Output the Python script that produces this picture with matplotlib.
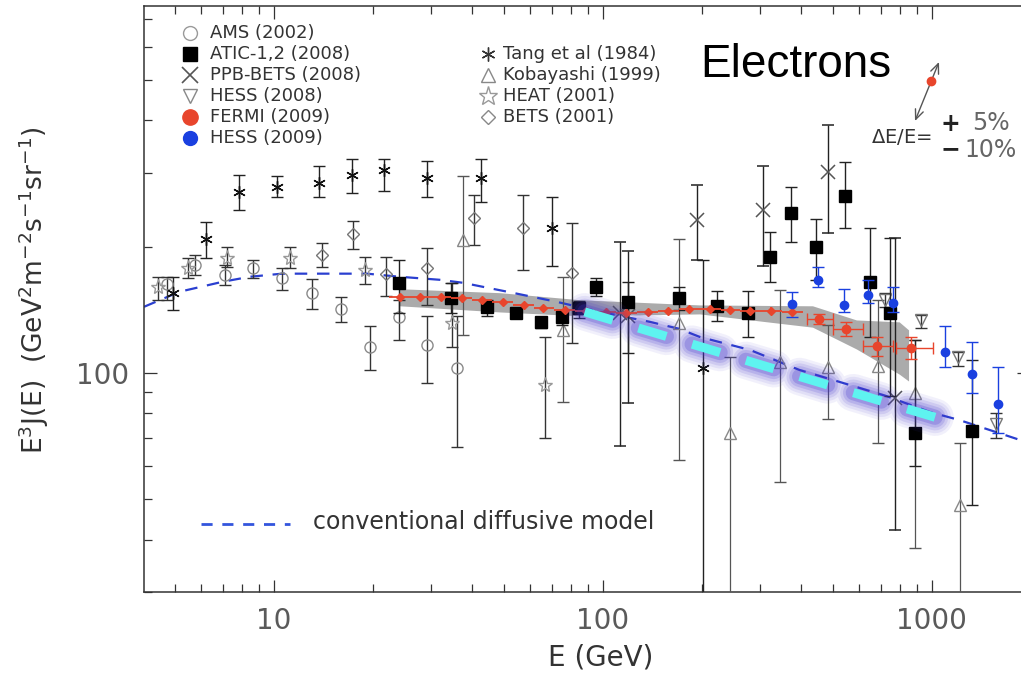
import numpy as np
import matplotlib.pyplot as plt
from matplotlib.ticker import FixedLocator, FuncFormatter, NullFormatter, LogLocator

plt.rcParams['lines.scale_dashes'] = False
plt.rcParams['font.family'] = ['DejaVu Sans']

# ---- data (E in GeV, E^3 J(E) in GeV^2 m^-2 s^-1 sr^-1) ----
ams_e = [4.73, 5.75, 7.10, 8.63, 10.6, 13.1, 16.0, 19.6, 24.0, 29.2, 36.0]
ams_f = [163, 181, 171, 178, 168, 155, 142, 115, 136, 116.6, 102.7]
ams_lo = [149, 171, 162, 168, 158, 142, 132, 101.5, 120, 94.5, 66.5]
ams_hi = [169, 191, 181, 186, 178, 167, 152, 129, 149, 137, 137]

atic_e = [24.0, 34.5, 44.4, 54.3, 64.9, 75.1, 84.5, 95.1, 119, 171, 222, 276,
          322, 373, 444, 544, 649, 745, 887, 1324]
atic_f = [164, 151, 143.6, 139, 132.3, 136, 142.9, 160, 147.6, 151, 144.6, 139,
          189, 240, 200, 264.6, 165, 139, 71.8, 72.5]
atic_lo = [139, 139, 136.6, 135, 128, 130, 135, 152.6, 111.6, 141, 133, 122,
           165, 205, 166.7, 221, 122, 88, 59.8, 48.3]
atic_hi = [186, 164, 149, 143, 136, 141, 148, 168, 165, 160, 157, 157,
           217, 278, 233, 319, 222, 210, 120, 107]

ppb_e = [113, 119, 194, 306, 483, 772]
ppb_f = [139, 136.5, 232, 245, 302, 87.1]
ppb_lo = [67, 84.6, 186, 180, 216, 42.1]
ppb_hi = [205, 195, 281, 311, 391, 210]

hess08_e = [719, 926, 1199, 1567]
hess08_f = [149.4, 133.7, 109.1, 75.5]
hess08_lo = [143.6, 128, 103.8, 69.8]
hess08_hi = [155, 137.4, 112.1, 80.2]

fermi_e = [24.1, 27.9, 32.2, 37.2, 42.9, 49.6, 57.5, 66.0, 76.6, 88.6, 102, 118,
           137, 158, 183, 212, 243, 281, 325, 376, 454, 548, 681, 863]
fermi_f = [151.8, 151.6, 151.5, 151, 149.4, 147.8, 145.2, 142.9, 141.3, 140.2,
           139.8, 139, 139.8, 140.6, 142.1, 142.1, 141.3, 140.6, 140.6, 139.8,
           134.4, 127.3, 115.9, 114.6]
fermi_elo = [22.4, 25.9, 30.0, 34.6, 40.0, 46.2, 53.4, 61.6, 71.2, 82.3, 95.2, 110,
             127, 147, 170, 197, 228, 262, 303, 350, 417, 500, 617, 776]
fermi_ehi = [25.9, 30.0, 34.6, 40.0, 46.2, 53.4, 61.6, 71.2, 82.3, 95.2, 110, 127,
             147, 170, 197, 228, 262, 303, 350, 405, 500, 617, 761, 1008]
fermi_ferr = [2, 2, 2, 2, 2, 2, 2, 2, 2, 2, 2, 2, 2, 2, 2.5, 2.5, 3, 3, 3, 3.5,
              4, 5, 6, 7]

band_e = [24.1, 48.6, 85.1, 197, 434, 590, 796, 850]
band_lo = [144.5, 139.7, 136.8, 138.2, 128.5, 114, 99.3, 95.6]
band_hi = [158.7, 155.3, 149.4, 145.2, 144.5, 133.7, 132.3, 126.6]

hess09_e = [376, 450, 540, 639, 761, 1096, 1325, 1588]
hess09_f = [146.1, 166.7, 145.2, 153.5, 146.9, 112.1, 99.3, 84.2]
hess09_lo = [136, 160, 139.8, 146.9, 139.8, 103.3, 89.5, 71.8]
hess09_hi = [156, 179, 158.7, 166.7, 160.5, 129.4, 118.5, 103.3]

tang_e = [4.93, 6.21, 7.83, 10.2, 13.7, 17.3, 21.6, 29.2, 42.6, 70.0, 201]
tang_f = [155, 209, 270, 278, 284, 297, 304, 292, 291, 221, 102.7]
tang_lo = [141, 188, 244, 262, 263, 269, 272, 263, 255, 180, 29]
tang_hi = [169, 229, 297, 295, 311, 323, 323, 320, 323, 262, 186]

koba_e = [37.5, 75.5, 171, 243, 345, 483, 686, 887, 1216]
koba_f = [207, 126.6, 131.6, 71.8, 106, 103.3, 103.8, 89.5, 48.3]
koba_lo = [123, 85, 61.9, 29, 54.8, 77.5, 68, 38.3, 29]
koba_hi = [294, 169, 208, 109, 158, 130, 149, 120, 68]

heat_e = [4.44, 5.48, 7.20, 11.2, 18.9, 34.8, 66.6]
heat_f = [160, 178, 188, 188, 176, 131.6, 93.5]
heat_lo = [149, 168, 179, 178, 163, 115, 69.8]
heat_hi = [169, 188, 200, 200, 189, 164, 122]

bets_e = [14.0, 17.4, 22.0, 29.2, 40.5, 57.1, 80.5]
bets_f = [191, 214, 172, 178, 234.5, 222, 173]
bets_lo = [179, 197, 152.6, 145, 202, 176, 118]
bets_hi = [204, 230, 189, 198, 266, 266, 228]

model_e = [4.03, 5.17, 6.99, 8.46, 10.6, 14.5, 19.2, 24.1, 31.9, 37.5, 53.2, 72.4,
           97.9, 139, 171, 197, 280, 397, 525, 728, 988, 1216, 1860, 2000]
model_f = [143.7, 156.1, 164.9, 169.5, 172.4, 172.4, 172.4, 169.5, 166.7, 164.0,
           155.2, 147.7, 139.8, 132.3, 127.3, 121.8, 113.4, 101.5, 95.1, 88.0,
           80.6, 77.1, 69.1, 67.9]

highlight_e = [88.1, 1042]
highlight_f = [139.8, 78.0]

left_labels = ["AMS (2002)", "ATIC-1,2 (2008)", "PPB-BETS (2008)", "HESS (2008)",
               "FERMI (2009)", "HESS (2009)"]
right_labels = ["Tang et al (1984)", "Kobayashi (1999)", "HEAT (2001)", "BETS (2001)"]

RED = '#e8452c'
BLUE = '#1a40e0'
ASTER = (6, 2, 0)

# ---- figure ----
W, H = 1021, 682
fig = plt.figure(figsize=(W / 100, H / 100), dpi=100)
ax = fig.add_axes([144 / W, (H - 592) / H, (1029 - 144) / W, (592 - 6) / H])
ax.set_xscale('log')
ax.set_yscale('log')
ax.set_xlim(4.03, 1975)
ax.set_ylim(30, 750)


def axfrac(px, py):
    return (px - 144) / 885, (592 - py) / 586


def draw(e, f, lo, hi, marker, ms, mfc, mec, ecolor='#222', elw=1.0, cap=4.0,
         z=3, mew=1.0, xerr=None):
    f = np.asarray(f, dtype=float)
    yerr = [f - np.asarray(lo), np.asarray(hi) - f]
    ax.errorbar(e, f, yerr=yerr, xerr=xerr, fmt='', marker=marker, ls='none',
                ms=ms, mfc=mfc, mec=mec, mew=mew, ecolor=ecolor,
                elinewidth=elw, capsize=cap, capthick=elw, zorder=z)


ax.fill_between(band_e, band_lo, band_hi, color='#ababab', lw=0, zorder=1)
ax.plot(model_e, model_f, color='#2a3fd0', lw=1.6, dashes=(9, 7), zorder=2)

draw(ams_e, ams_f, ams_lo, ams_hi, 'o', 8, 'none', '#8a8a8a', ecolor='#333')
draw(heat_e, heat_f, heat_lo, heat_hi, '*', 11, 'none', '#999', ecolor='#333')
draw(bets_e, bets_f, bets_lo, bets_hi, 'D', 6, 'none', '#777', ecolor='#333')
draw(koba_e, koba_f, koba_lo, koba_hi, '^', 8, 'none', '#888', ecolor='#555',
     elw=0.9)
draw(tang_e, tang_f, tang_lo, tang_hi, ASTER, 9, '#111', '#111')
draw(ppb_e, ppb_f, ppb_lo, ppb_hi, 'x', 10, '#555', '#555', mew=1.1)
draw(hess08_e, hess08_f, hess08_lo, hess08_hi, 'v', 8, 'none', '#777',
     ecolor='#333')
draw(atic_e, atic_f, atic_lo, atic_hi, 's', 8, 'black', 'black', z=4)

fe = np.asarray(fermi_e)
fxerr = [fe - np.asarray(fermi_elo), np.asarray(fermi_ehi) - fe]
ax.errorbar(fermi_e[:20], fermi_f[:20], yerr=fermi_ferr[:20],
            xerr=[fxerr[0][:20], fxerr[1][:20]], fmt='D', ms=4.5, color=RED,
            elinewidth=1.3, capsize=0, zorder=5)
ax.errorbar(fermi_e[20:], fermi_f[20:], yerr=fermi_ferr[20:],
            xerr=[fxerr[0][20:], fxerr[1][20:]], fmt='o', ms=6, color=RED,
            elinewidth=1.0, capsize=4, zorder=5)

draw(hess09_e, hess09_f, hess09_lo, hess09_hi, 'o', 6, BLUE, BLUE,
     ecolor=BLUE, z=5)

# highlighted trend (cyan with violet glow)
for lw, a in [(27, 0.07), (23, 0.09), (19, 0.12), (15, 0.16), (11, 0.24)]:
    ax.plot(highlight_e, highlight_f, color='#4536cc', lw=lw, alpha=a,
            dashes=(21, 19.4), dash_capstyle='round', zorder=8)
ax.plot(highlight_e, highlight_f, color='#5ef3f0', lw=6.5, dashes=(21, 19.4),
        dash_capstyle='butt', zorder=9)

# ---- axes styling ----
ax.xaxis.set_major_locator(FixedLocator([10, 100, 1000]))
ax.xaxis.set_minor_locator(LogLocator(base=10, subs=np.arange(2, 10)))
ax.yaxis.set_major_locator(FixedLocator([100]))
ax.yaxis.set_minor_locator(LogLocator(base=10, subs=np.arange(2, 10)))
fmt = FuncFormatter(lambda v, p: f'{v:g}')
ax.xaxis.set_major_formatter(fmt)
ax.yaxis.set_major_formatter(fmt)
ax.xaxis.set_minor_formatter(NullFormatter())
ax.yaxis.set_minor_formatter(NullFormatter())
ax.tick_params(which='both', direction='in', top=True, right=True,
               color='#333', width=0.9)
ax.tick_params(which='major', length=9, labelsize=20, labelcolor='#5a5a5a', pad=11)
ax.tick_params(which='minor', length=5.5)
for s in ax.spines.values():
    s.set_color('#333')
    s.set_linewidth(1.1)

ax.set_xlabel('E (GeV)', fontsize=20, color='#333')
ax.xaxis.set_label_coords(0.516, -0.088)
ax.set_ylabel(r'E$^{3}$J(E)  (GeV$^{2}$m$^{-2}$s$^{-1}$sr$^{-1}$)',
              fontsize=19, color='#333')
ax.yaxis.set_label_coords(-0.105, 0.515)

# ---- manual legend ----
left_styles = [
    dict(marker='o', mfc='none', mec='#9a9a9a', ms=10),
    dict(marker='s', mfc='black', mec='black', ms=10),
    dict(marker='x', mfc='#555', mec='#555', ms=11, mew=1.2),
    dict(marker='v', mfc='none', mec='#888', ms=10),
    dict(marker='o', mfc=RED, mec=RED, ms=11),
    dict(marker='o', mfc=BLUE, mec=BLUE, ms=10),
]
right_styles = [
    dict(marker=ASTER, mfc='#333', mec='#333', ms=10),
    dict(marker='^', mfc='none', mec='#888', ms=10),
    dict(marker='*', mfc='none', mec='#999', ms=14),
    dict(marker='D', mfc='none', mec='#888', ms=7),
]
rows = [33, 54, 75, 96, 117, 138]
for i, (lab, st) in enumerate(zip(left_labels, left_styles)):
    ax.plot(*axfrac(190, rows[i]), transform=ax.transAxes, ls='none',
            clip_on=False, zorder=6, **st)
    ax.text(*axfrac(210, rows[i]), lab, transform=ax.transAxes, fontsize=13,
            color='#333', va='center', ha='left')
for i, (lab, st) in enumerate(zip(right_labels, right_styles)):
    ax.plot(*axfrac(488, rows[i + 1]), transform=ax.transAxes, ls='none',
            clip_on=False, zorder=6, **st)
    ax.text(*axfrac(503, rows[i + 1]), lab, transform=ax.transAxes, fontsize=13,
            color='#333', va='center', ha='left')

lx0, ly = axfrac(201, 524)
lx1, _ = axfrac(290, 524)
ax.plot([lx0, lx1], [ly, ly], transform=ax.transAxes, color='#3355dd', lw=2,
        dashes=(8, 7))
ax.text(*axfrac(313, 522), 'conventional diffusive model', transform=ax.transAxes,
        fontsize=17, color='#333', va='center', ha='left')

# ---- annotations ----
fig.text(700 / W, 1 - 65 / H, 'Electrons', fontsize=33, family='Liberation Sans',
         va='center', ha='left', color='black')
ax.annotate('', xy=(939, H - 62), xytext=(915, H - 121), xycoords='figure pixels',
            textcoords='figure pixels',
            arrowprops=dict(arrowstyle='<->,head_length=0.7,head_width=0.3',
                            color='#555', lw=1.0, shrinkA=0, shrinkB=0))
ax.plot([931 / W], [1 - 81 / H], 'o', color=RED, ms=6, transform=fig.transFigure,
        clip_on=False, zorder=10)
fig.text(871 / W, 1 - 137 / H, r'$\Delta$E/E=', fontsize=14, color='#333',
         va='center', ha='left')
fig.text(950 / W, 1 - 124 / H, '+', fontsize=17, fontweight='bold', color='#222',
         va='center', ha='center')
fig.text(950 / W, 1 - 149 / H, '\u2212', fontsize=17, fontweight='bold',
         color='#222', va='center', ha='center')
fig.text(972 / W, 1 - 123 / H, '5%', fontsize=17, color='#666', va='center',
         ha='left')
fig.text(964 / W, 1 - 150 / H, '10%', fontsize=17, color='#666', va='center',
         ha='left')

fig.savefig('out.png', dpi=100)
